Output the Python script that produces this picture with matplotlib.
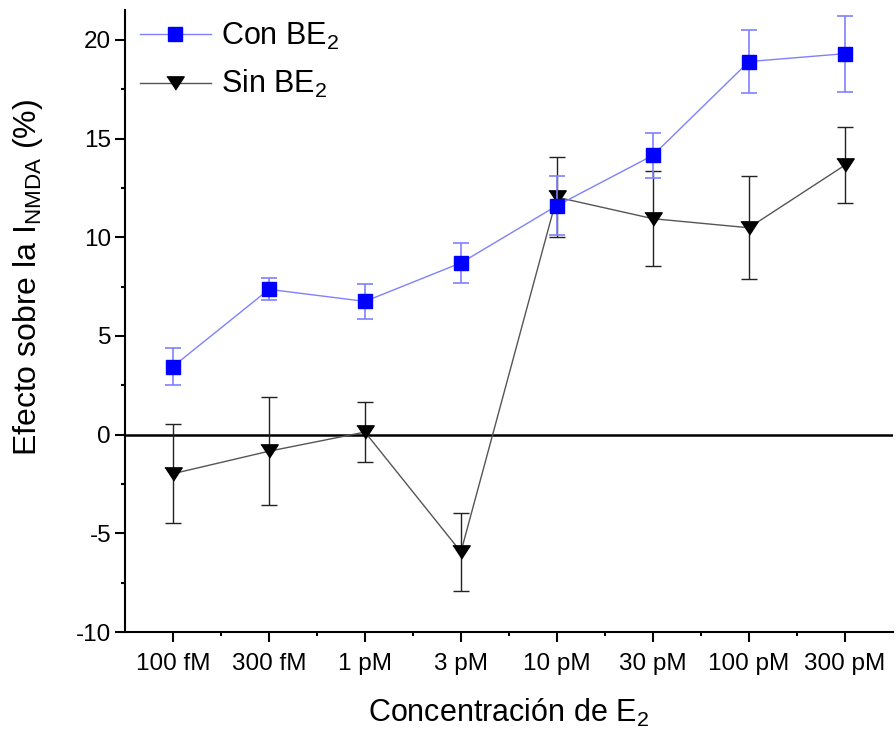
import matplotlib
matplotlib.use("Agg")
import matplotlib.pyplot as plt
from matplotlib.ticker import MultipleLocator, FixedLocator
import numpy as np

plt.rcParams['font.family'] = ['Liberation Sans', 'DejaVu Sans']
plt.rcParams['mathtext.fontset'] = 'custom'
plt.rcParams['mathtext.rm'] = 'Liberation Sans'
plt.rcParams['axes.unicode_minus'] = False

categories = ["100 fM", "300 fM", "1 pM", "3 pM", "10 pM", "30 pM", "100 pM", "300 pM"]
con_be2 = [3.45, 7.36, 6.75, 8.7, 11.6, 14.15, 18.9, 19.3]
con_be2_err = [0.95, 0.55, 0.9, 1.0, 1.5, 1.15, 1.6, 1.93]
sin_be2 = [-1.98, -0.84, 0.13, -5.94, 12.03, 10.94, 10.48, 13.65]
sin_be2_err = [2.5, 2.75, 1.5, 1.98, 2.03, 2.4, 2.6, 1.93]

fig = plt.figure(figsize=(8.96, 7.32), dpi=100)
ax = fig.add_axes([0.1395, 0.1366, 0.857, 0.8494])

x = np.arange(len(categories))

ax.axhline(0, color='black', lw=1.8, zorder=1)

tri = [(-1, 0.765), (1, 0.765), (0, -0.765)]

ax.errorbar(x, sin_be2, yerr=sin_be2_err, fmt='none', ecolor='#222222',
            elinewidth=1.0, capsize=5.5, capthick=1.0, zorder=2)
ax.plot(x, sin_be2, color='#555555', lw=1.0, marker=tri, ms=12.5,
        mfc='black', mec='black', label='Sin BE$_2$', zorder=3)

ax.errorbar(x, con_be2, yerr=con_be2_err, fmt='none', ecolor='#8080ff',
            elinewidth=1.2, capsize=5.5, capthick=1.2, zorder=4)
ax.plot(x, con_be2, color='#8080ff', lw=1.0, marker='s', ms=9.5,
        mfc='#0000ff', mec='#0000ff', label='Con BE$_2$', zorder=5)

ax.set_xlim(-0.5, 7.5)
ax.set_ylim(-10, 21.5)
ax.set_xticks(x)
ax.set_xticklabels(categories)
ax.xaxis.set_minor_locator(FixedLocator(x[:-1] + 0.5))
ax.yaxis.set_major_locator(MultipleLocator(5))
ax.yaxis.set_minor_locator(MultipleLocator(2.5))

for s in ['top', 'right']:
    ax.spines[s].set_visible(False)
for s in ['left', 'bottom']:
    ax.spines[s].set_linewidth(1.5)

ax.tick_params(axis='both', which='major', direction='out', length=7, width=1.5,
               labelsize=17.5)
ax.tick_params(axis='y', which='major', pad=3)
ax.tick_params(axis='x', which='major', pad=8)
ax.tick_params(axis='both', which='minor', direction='out', length=3, width=1.5)

ax.set_xlabel('Concentración de E$_2$', fontsize=22, labelpad=16)
ax.set_ylabel(r'Efecto sobre la I$_{\mathregular{NMDA}}$ (%)', fontsize=23)
ax.yaxis.set_label_coords(-0.104, 0.571)

handles, labels = ax.get_legend_handles_labels()
ax.legend(handles[::-1], labels[::-1], loc='upper left', bbox_to_anchor=(-0.008, 1.018),
          frameon=False, fontsize=22, handlelength=2.3, handletextpad=0.35,
          labelspacing=0.55, borderaxespad=0.3)

fig.savefig('out.png', dpi=100)
